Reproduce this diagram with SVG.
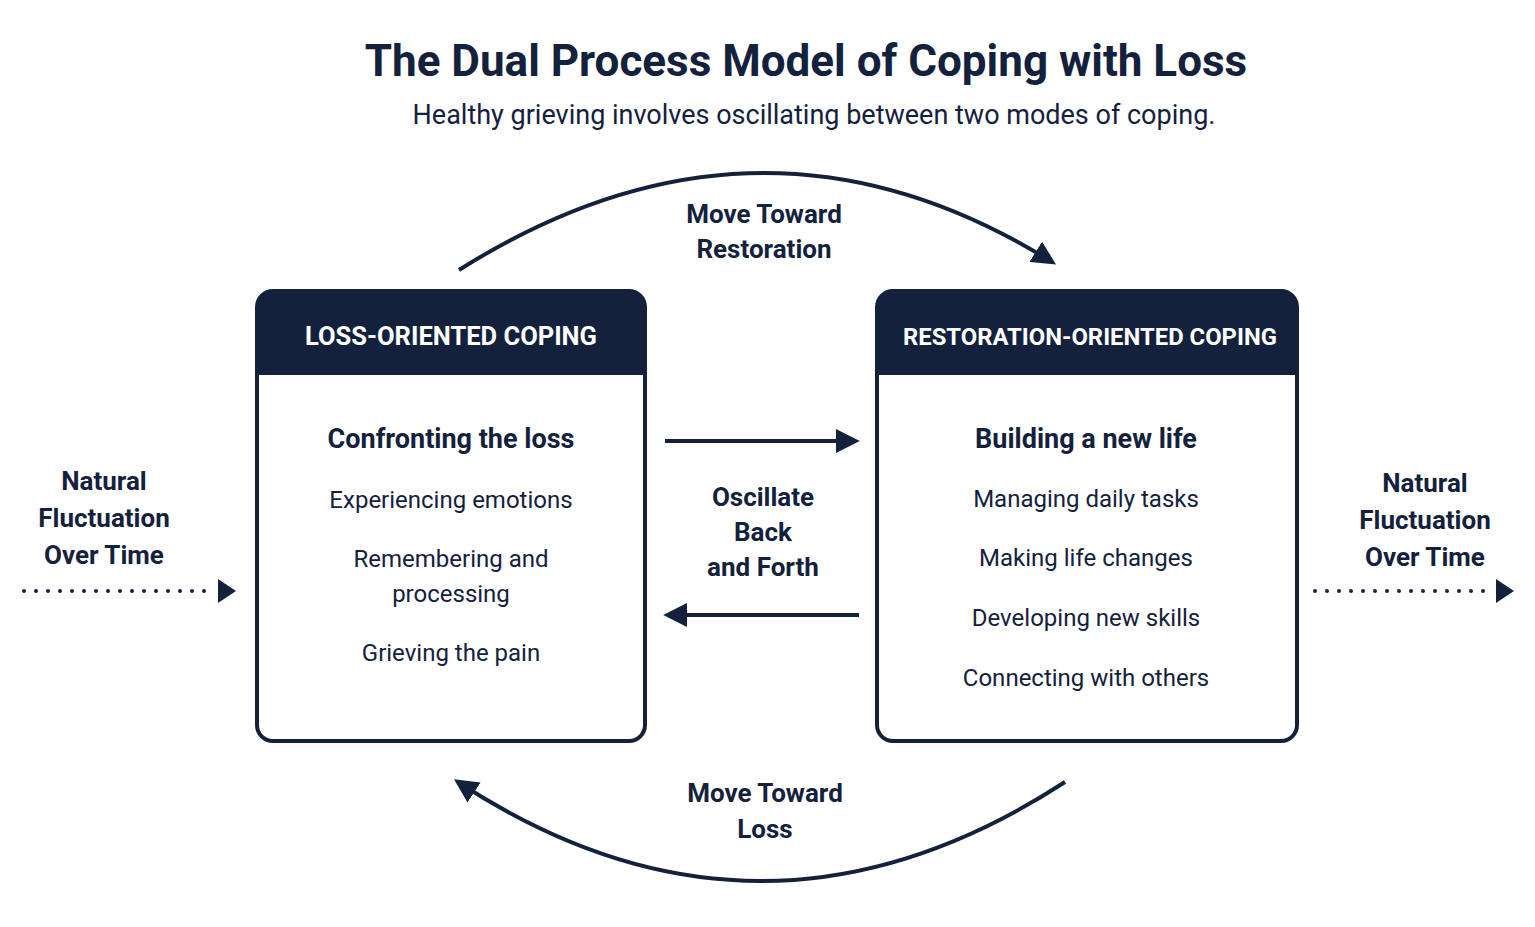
<svg xmlns="http://www.w3.org/2000/svg" width="1535" height="927" viewBox="0 0 1535 927">
<defs>
<style>
text{font-family:"Roboto","Liberation Sans",sans-serif;fill:#14213d;text-anchor:middle}
.t{font-size:44px;font-weight:bold}
.s{font-size:27px}
.h{font-size:25.5px;font-weight:bold;fill:#fff}
.b{font-size:27px;font-weight:bold}
.i{font-size:24px}
.l{font-size:26px;font-weight:bold}
.box{fill:#fff;stroke:#14213d;stroke-width:4}
.hd{fill:#14213d}
.c{fill:none;stroke:#14213d;stroke-width:4}
.d{fill:none;stroke:#14213d;stroke-width:4;stroke-dasharray:0 12;stroke-linecap:round}
</style>
<marker id="a" viewBox="0 0 10 10" refX="8" refY="5" markerWidth="6" markerHeight="6" orient="auto" markerUnits="strokeWidth"><path d="M0,0L10,5L0,10z" fill="#14213d"/></marker>
</defs>
<rect width="1535" height="927" fill="#fff"/>
<text class="t" x="806" y="76">The Dual Process Model of Coping with Loss</text>
<text class="s" x="814" y="124">Healthy grieving involves oscillating between two modes of coping.</text>
<g id="loss">
<rect class="box" x="257" y="291" width="388" height="450" rx="16"/>
<path class="hd" d="M257,375V307a16,16 0 0 1 16,-16H629a16,16 0 0 1 16,16V375z"/>
<text class="h" x="451" y="345">LOSS-ORIENTED COPING</text>
<text class="b" x="451" y="448">Confronting the loss</text>
<text class="i" x="451" y="508">Experiencing emotions</text>
<text class="i" x="451" y="567">Remembering and</text>
<text class="i" x="451" y="602">processing</text>
<text class="i" x="451" y="661">Grieving the pain</text>
</g>
<g id="restoration">
<rect class="box" x="877" y="291" width="420" height="450" rx="16"/>
<path class="hd" d="M877,375V307a16,16 0 0 1 16,-16H1281a16,16 0 0 1 16,16V375z"/>
<text class="h" x="1090" y="345" style="font-size:24.5px" textLength="374" lengthAdjust="spacingAndGlyphs">RESTORATION-ORIENTED COPING</text>
<text class="b" x="1086" y="448">Building a new life</text>
<text class="i" x="1086" y="507">Managing daily tasks</text>
<text class="i" x="1086" y="566">Making life changes</text>
<text class="i" x="1086" y="626">Developing new skills</text>
<text class="i" x="1086" y="686">Connecting with others</text>
</g>
<g id="labels">
<text class="l" x="764" y="223">Move Toward</text>
<text class="l" x="764" y="258">Restoration</text>
<text class="l" x="763" y="506">Oscillate</text>
<text class="l" x="763" y="541">Back</text>
<text class="l" x="763" y="576">and Forth</text>
<text class="l" x="765" y="802">Move Toward</text>
<text class="l" x="765" y="838">Loss</text>
<text class="l" x="104" y="490">Natural</text>
<text class="l" x="104" y="527">Fluctuation</text>
<text class="l" x="104" y="564">Over Time</text>
<text class="l" x="1425" y="492">Natural</text>
<text class="l" x="1425" y="529">Fluctuation</text>
<text class="l" x="1425" y="566">Over Time</text>
</g>
<g id="connectors">
<path class="c" d="M459,270Q760,80 1052,262" marker-end="url(#a)"/>
<path class="c" d="M1065,782Q760,980 458,782" marker-end="url(#a)"/>
<path class="c" d="M665,441H855" marker-end="url(#a)"/>
<path class="c" d="M859,615H668" marker-end="url(#a)"/>
<path class="d" d="M24,591H212"/>
<path d="M218,579L236,591L218,603z" fill="#14213d"/>
<path class="d" d="M1315,591H1490"/>
<path d="M1496,579L1514,591L1496,603z" fill="#14213d"/>
</g>
</svg>
